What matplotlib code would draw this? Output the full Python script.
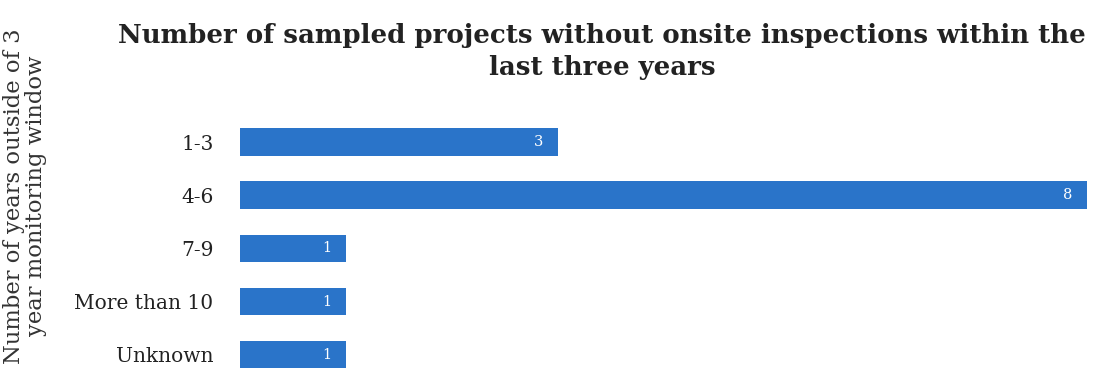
import matplotlib.pyplot as plt

# data
categories = ['1-3', '4-6', '7-9', 'More than 10', 'Unknown']
counts = [3, 8, 1, 1, 1]

title = 'Number of sampled projects without onsite inspections within the\nlast three years'
ylabel = 'Number of years outside of 3\nyear monitoring window'

plt.rcParams['font.family'] = ['DejaVu Serif']

W, H = 1093, 368
fig = plt.figure(figsize=(W / 100, H / 100), dpi=100)

# axes placed in pixel terms: bars start at x=240, value 8 reaches x=1087
ax_left, ax_right = 240, 1087
ax_top, ax_bottom = 115, 368
ax = fig.add_axes([ax_left / W, 1 - ax_bottom / H,
                   (ax_right - ax_left) / W, (ax_bottom - ax_top) / H])

pos = list(range(len(categories)))
bars = ax.barh(pos, counts, height=0.52, color='#2a74c9')
ax.set_xlim(0, 8)
ax.set_ylim(4.25, -0.51)

ax.set_yticks(pos)
ax.set_yticklabels(categories, fontsize=14.5, color='#222222')
ax.tick_params(axis='y', length=0, pad=19)
ax.set_xticks([])
for s in ax.spines.values():
    s.set_visible(False)

for p, v in zip(pos, counts):
    ax.annotate(str(v), (v, p), xytext=(-14, 0), textcoords='offset points',
                ha='center', va='center', color='white', fontsize=10.5)

fig.text(602 / W, 1 - 51 / H, title, ha='center', va='center',
         fontsize=18.7, fontweight='bold', color='#222222', linespacing=1.35)
fig.text(25 / W, 1 - 196 / H, ylabel, ha='center', va='center',
         rotation=90, fontsize=16.3, color='#333333', linespacing=0.95)

fig.savefig('out.png', dpi=100, facecolor='white')
